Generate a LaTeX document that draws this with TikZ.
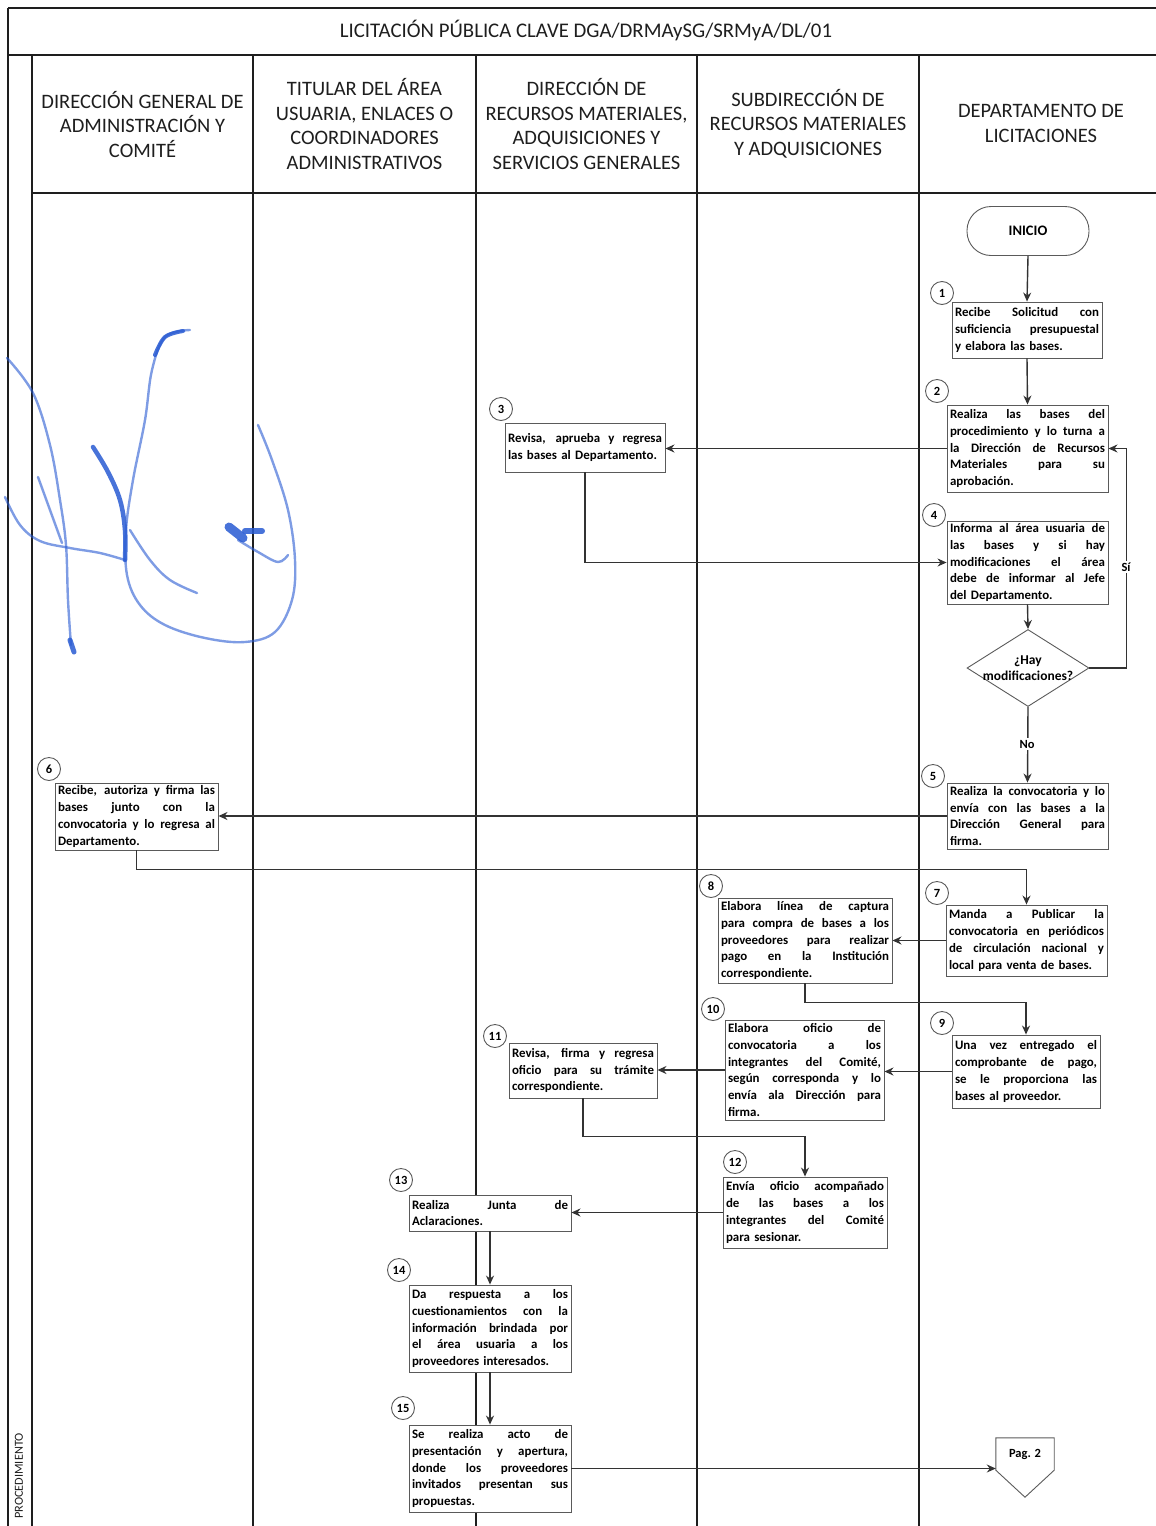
\documentclass[tikz,border=0pt]{standalone}
\usepackage{fontspec}
\setmainfont{Carlito}
\usetikzlibrary{arrows.meta,shapes.geometric}
\definecolor{ink}{HTML}{1E1E1E}
\definecolor{boxline}{HTML}{5A5A5A}
\definecolor{wire}{HTML}{333333}
\definecolor{sig}{RGB}{40,90,210}
% one fully justified line of a step box
\newcommand{\jl}[1]{\hbox to \hsize{\spaceskip=0pt plus 1fil\relax #1}\par}
\newcommand{\boxfont}{\fontsize{12.9}{16.8}\selectfont\bfseries}
\newcommand{\headfont}{\fontsize{20.5}{24.6}\selectfont}
\begin{document}
\begin{tikzpicture}[x=1pt,y=-1pt,
  lane/.style={draw=ink,line width=1.4pt},
  stepbox/.style={draw=boxline,line width=0.9pt,fill=white,inner xsep=3pt,inner ysep=2pt,align=left,font=\boxfont},
  num/.style={circle,draw=boxline,line width=0.9pt,fill=white,minimum size=23pt,inner sep=0pt,font=\fontsize{12.5}{12.5}\selectfont\bfseries},
  wirearr/.style={draw=wire,line width=1.4pt,-{Stealth[length=9pt,width=8pt]}},
  head/.style={align=center,font=\headfont,text=ink},
  tag/.style={fill=white,inner sep=1.5pt,font=\fontsize{12.5}{14}\selectfont\bfseries}
]
\useasboundingbox (0,0) rectangle (1156,1526);

% ---- frame and swim lanes ----
\draw[lane] (8,8) -- (1156,8);
\draw[lane] (8,55) -- (1156,55);
\draw[lane] (32,193) -- (1156,193);
\draw[lane] (8,8) -- (8,1526);
\foreach \lx in {32,253,476,697,919} \draw[lane] (\lx,55) -- (\lx,1526);

% ---- signature in blue ink ----
\begin{scope}[draw=sig,line cap=round,line join=round]
  \begin{scope}[line width=2.4pt,opacity=0.6]
    \draw plot[smooth,tension=0.6] coordinates {(7,358) (33,393) (50,445) (60,500) (66,545) (68,600) (71,645)};
    \draw plot[smooth,tension=0.6] coordinates {(5,497) (20,525) (40,541) (70,548) (100,553) (125,560)};
    \draw plot[smooth,tension=0.6] coordinates {(38,477) (50,510) (62,543)};
    \draw plot[smooth,tension=0.6] coordinates {(190,330) (165,337) (152,370) (145,420) (133,480) (126,530) (127,575) (140,605) (165,625) (205,638) (245,642) (275,632) (292,600) (295,560) (288,510) (272,460) (258,425)};
    \draw plot[smooth,tension=0.6] coordinates {(130,530) (150,560) (170,580) (197,593)};
    \draw plot[smooth,tension=0.6] coordinates {(238,540) (258,552) (278,562) (288,555)};
  \end{scope}
  \begin{scope}[opacity=0.85]
    \draw[line width=4pt] plot[smooth,tension=0.6] coordinates {(183,331) (165,337) (155,355)};
    \draw[line width=4.5pt] plot[smooth,tension=0.6] coordinates {(93,447) (108,472) (120,500) (125,530) (125,560)};
    \draw[line width=5pt] (70,640) -- (74,652);
    \draw[line width=9pt] (229,527) -- (243,538);
    \draw[line width=6pt] (245,531) -- (262,531);
  \end{scope}
\end{scope}

\node[font=\fontsize{20.8}{24}\selectfont,text=ink] (title) at (586,30) {LICITACIÓN PÚBLICA CLAVE DGA/DRMAySG/SRMyA/DL/01};
\node[rotate=90,font=\fontsize{12.3}{13}\selectfont,text=ink] (proc) at (19,1476) {PROCEDIMIENTO};

\node[head] (h1) at (142.5,124.5) {DIRECCIÓN GENERAL DE\\ADMINISTRACIÓN Y\\COMITÉ};
\node[head] (h2) at (364.5,124) {TITULAR DEL ÁREA\\USUARIA, ENLACES O\\COORDINADORES\\ADMINISTRATIVOS};
\node[head] (h3) at (586.5,124) {DIRECCIÓN DE\\RECURSOS MATERIALES,\\ADQUISICIONES Y\\SERVICIOS GENERALES};
\node[head] (h4) at (808,123.5) {SUBDIRECCIÓN DE\\RECURSOS MATERIALES\\Y ADQUISICIONES};
\node[head] (h5) at (1041,123.5) {DEPARTAMENTO DE\\LICITACIONES};

% ---- flow nodes ----
\node[draw=boxline,line width=0.9pt,rounded corners=24pt,minimum width=122pt,minimum height=49pt,font=\fontsize{14.5}{15}\selectfont\bfseries] (inicio) at (1028,231) {INICIO};

\node[stepbox,text width=144pt,minimum height=56pt] (b1) at (1027,330)
  {\jl{Recibe Solicitud con}\jl{suficiencia presupuestal}y elabora las bases.};
\node[stepbox,text width=155pt,minimum height=87pt] (b2) at (1027.5,448.5)
  {\jl{Realiza las bases del}\jl{procedimiento y lo turna a}\jl{la Dirección de Recursos}\jl{Materiales para su}aprobación.};
\node[stepbox,text width=154pt,minimum height=49pt] (b3) at (585,447.5)
  {\jl{Revisa, aprueba y regresa}las bases al Departamento.};
\node[stepbox,text width=155pt,minimum height=83pt] (b4) at (1027.5,562.5)
  {\jl{Informa al área usuaria de}\jl{las bases y si hay}\jl{modificaciones el área}\jl{debe de informar al Jefe}del Departamento.};
\node[diamond,draw=boxline,line width=0.9pt,minimum width=122pt,minimum height=77pt,inner sep=0pt] (dec) at (1028,668) {};
\node[align=center,font=\fontsize{13.5}{16}\selectfont\bfseries] (dectext) at (1028,668) {¿Hay\\modificaciones?};
\node[stepbox,text width=155pt,minimum height=66pt] (b5) at (1027.5,816)
  {\jl{Realiza la convocatoria y lo}\jl{envía con las bases a la}\jl{Dirección General para}firma.};
\node[stepbox,text width=157pt,minimum height=67pt] (b6) at (136.5,816.5)
  {\jl{Recibe, autoriza y firma las}\jl{bases junto con la}\jl{convocatoria y lo regresa al}Departamento.};
\node[stepbox,text width=155pt,minimum height=71pt] (b7) at (1026.5,940.5)
  {\jl{Manda a Publicar la}\jl{convocatoria en periódicos}\jl{de circulación nacional y}local para venta de bases.};
\node[stepbox,text width=168pt,minimum height=85pt] (b8) at (805,940.5)
  {\jl{Elabora línea de captura}\jl{para compra de bases a los}\jl{proveedores para realizar}\jl{pago en la Institución}correspondiente.};
\node[stepbox,text width=142pt,minimum height=73pt] (b9) at (1026,1071.5)
  {\jl{Una vez entregado el}\jl{comprobante de pago,}\jl{se le proporciona las}bases al proveedor.};
\node[stepbox,text width=153pt,minimum height=100pt] (b10) at (804.5,1070)
  {\jl{Elabora oficio de}\jl{convocatoria a los}\jl{integrantes del Comité,}\jl{según corresponda y lo}\jl{envía ala Dirección para}firma.};
\node[stepbox,text width=142pt,minimum height=55pt] (b11) at (583,1070.5)
  {\jl{Revisa, firma y regresa}\jl{oficio para su trámite}correspondiente.};
\node[stepbox,text width=158pt,minimum height=71pt] (b12) at (805,1212.5)
  {\jl{Envía oficio acompañado}\jl{de las bases a los}\jl{integrantes del Comité}para sesionar.};
\node[stepbox,text width=156pt,minimum height=36pt] (b13) at (490,1213)
  {\jl{Realiza Junta de}Aclaraciones.};
\node[stepbox,text width=156pt,minimum height=87pt] (b14) at (490,1328.5)
  {\jl{Da respuesta a los}\jl{cuestionamientos con la}\jl{información brindada por}\jl{el área usuaria a los}proveedores interesados.};
\node[stepbox,text width=156pt,minimum height=87pt] (b15) at (490,1468.5)
  {\jl{Se realiza acto de}\jl{presentación y apertura,}\jl{donde los proveedores}\jl{invitados presentan sus}propuestas.};

% off-page connector
\node[minimum width=58pt,minimum height=32pt,inner sep=0pt,font=\fontsize{12.5}{14}\selectfont\bfseries] (pag) at (1025,1454) {Pag. 2};
\draw[draw=boxline,line width=0.9pt] (pag.north west) -- (pag.north east) -- (pag.south east)
  -- ([yshift=-27pt]pag.south) -- (pag.south west) -- cycle;

% step numbers
\node[num] (n1) at (942,293) {1};
\node[num] (n2) at (937,391) {2};
\node[num] (n3) at (501,409) {3};
\node[num] (n4) at (934,515) {4};
\node[num] (n5) at (933,776) {5};
\node[num] (n6) at (49,769) {6};
\node[num] (n7) at (937,893) {7};
\node[num] (n8) at (711,886) {8};
\node[num] (n9) at (942,1023) {9};
\node[num] (n10) at (713,1009) {10};
\node[num] (n11) at (495,1036) {11};
\node[num] (n12) at (735,1162) {12};
\node[num] (n13) at (401,1180) {13};
\node[num] (n14) at (399,1270) {14};
\node[num] (n15) at (403,1408) {15};

% ---- connectors ----
\draw[wirearr] (inicio.south) -- (b1.north);
\draw[wirearr] (b1.south) -- (b2.north);
\draw[wirearr] (b2.west) -- (b2.west -| b3.east);
\draw[wirearr] (b3.south) |- (b4.west);
\draw[wirearr] (b4.south) -- (dec.north);
\draw[wirearr] (dec.east) -- ++(37,0) |- (b2.east);
\node[tag] (si) at (1126,567) {Sí};
\draw[wirearr] (dec.south) -- (b5.north);
\node[tag] (no) at (1027,744) {No};
\draw[wirearr] (b5.west) -- (b5.west -| b6.east);
\draw[wirearr] (b6.south) -- ++(0,19) -| (b7.north);
\draw[wirearr] (b7.west) -- (b7.west -| b8.east);
\draw[wirearr] (b8.south) -- ++(0,19) -| (b9.north);
\draw[wirearr] (b9.west) -- (b9.west -| b10.east);
\draw[wirearr] (b10.west) -- (b10.west -| b11.east);
\draw[wirearr] (b11.south) -- ++(0,38) -| (b12.north);
\draw[wirearr] (b12.west) -- (b12.west -| b13.east);
\draw[wirearr] (b13.south) -- (b14.north);
\draw[wirearr] (b14.south) -- (b15.north);
\draw[wirearr] (b15.east) -- (b15.east -| pag.west);
\end{tikzpicture}
\end{document}
